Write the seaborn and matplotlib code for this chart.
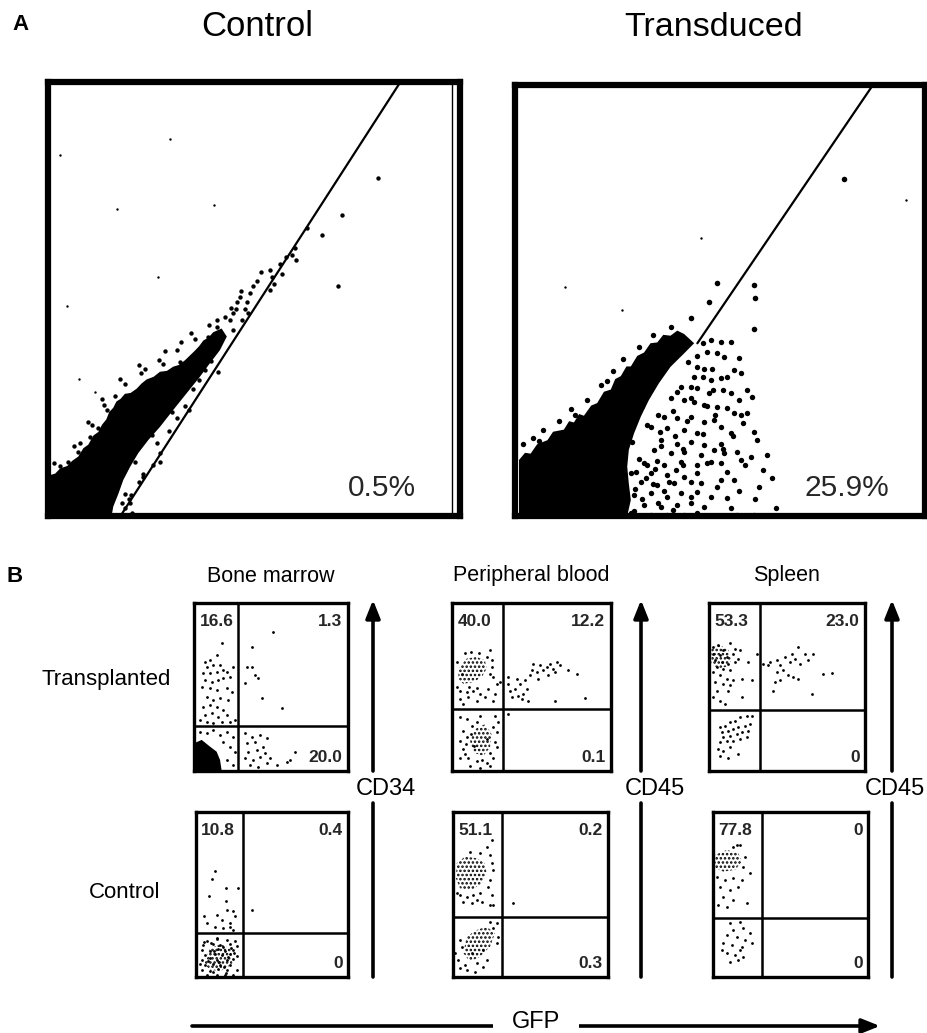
import numpy as np
import pandas as pd
import matplotlib
matplotlib.use("Agg")
import matplotlib.pyplot as plt
import seaborn as sns

W, H = 928, 1033

# ---------------- panel A: FL channel scatter, 0-1023 ----------------
ctrl_core = [(0, 0), (0, 95), (18, 100), (30, 112), (48, 118), (60, 130), (75, 140), (88, 160),
             (100, 168), (113, 190), (125, 198), (134, 215), (145, 228), (152, 245), (162, 255),
             (170, 270), (180, 276), (191, 288), (205, 290), (220, 300), (232, 312), (245, 322),
             (262, 328), (278, 340), (295, 342), (311, 352), (325, 356), (340, 367), (352, 378),
             (365, 390), (375, 400), (386, 414), (398, 420), (410, 433), (431, 442), (444, 423),
             (427, 391), (402, 360), (377, 328), (344, 289), (311, 250), (278, 210), (249, 179),
             (224, 148), (204, 116), (187, 85), (175, 53), (162, 22), (158, 0)]
ctrl_dots = [(382, 395), (398, 423), (419, 446), (452, 462), (460, 478), (468, 489), (493, 505),
             (502, 525), (510, 541), (497, 478), (477, 517), (551, 580), (555, 564), (560, 548),
             (551, 533), (605, 615), (617, 603), (613, 631), (423, 340), (278, 148), (237, 93),
             (204, 30), (208, 6), (460, 438), (481, 462), (489, 489),
             (820, 796), (729, 709), (680, 662), (642, 678), (721, 542), (411, 3),
             (328, 364), (332, 321), (336, 297), (307, 246), (270, 171), (257, 191), (278, 128),
             (216, 128), (191, 53), (183, 30),
             (79, 172), (104, 187), (50, 128), (30, 118), (125, 207), (146, 250),
             (166, 283), (241, 346), (286, 358),
             (75, 150), (110, 215), (140, 262), (190, 312), (230, 338), (275, 368),
             (320, 392), (365, 418), (400, 450), (420, 462), (15, 125), (65, 165), (100, 222),
             (135, 275), (180, 322), (225, 356), (290, 388), (330, 410), (355, 432), (440, 470),
             (455, 490), (470, 505), (480, 530), (520, 555), (530, 575), (575, 595), (590, 610),
             (580, 570),
             (300, 200), (320, 230), (340, 260), (360, 300), (375, 320), (390, 345), (405, 365),
             (350, 250), (260, 120), (225, 80), (205, 50), (190, 20), (235, 100), (200, 40)]
ctrl_faint = [(411, 733), (171, 723), (303, 888), (30, 851), (46, 495), (274, 563), (78, 324),
              (117, 293)]
ctrl_gate = [(180, 0), (875, 1023)]
ctrl_inner_edge = 1003
ctrl_pct = "0.5%"

trans_core = [(10, 0), (10, 133), (25, 150), (39, 148), (55, 170), (81, 180), (95, 200),
              (122, 205), (135, 225), (147, 222), (160, 242), (172, 238), (190, 262), (205, 268),
              (222, 295), (239, 300), (250, 325), (264, 332), (278, 355), (289, 355), (305, 380),
              (322, 388), (338, 410), (355, 412), (370, 430), (388, 428), (405, 440), (422, 432),
              (447, 410), (422, 386), (388, 354), (359, 315), (334, 275), (314, 236), (297, 196),
              (284, 157), (280, 117), (284, 77), (289, 38), (280, 0)]
trans_dots = [(488, 418), (513, 414), (538, 414), (480, 390), (505, 386),
              (522, 378), (559, 374), (455, 354), (472, 350), (492, 350),
              (547, 347), (563, 339), (447, 331), (468, 331), (513, 327), (488, 323),
              (413, 307), (438, 307), (455, 303), (484, 291), (538, 291), (580, 299), (592, 283),
              (388, 279), (422, 275), (447, 271), (559, 275), (472, 263), (505, 259), (530, 256),
              (547, 244), (580, 244),
              (372, 236), (405, 232), (438, 236), (472, 224), (497, 228), (563, 240),
              (339, 212), (380, 208), (422, 204), (455, 196), (513, 212), (538, 196), (596, 200),
              (605, 180),
              (364, 180), (405, 172), (438, 176), (472, 169), (513, 172),
              (347, 157), (388, 149), (422, 153), (463, 145), (497, 157), (522, 149), (555, 153),
              (563, 133), (630, 145),
              (322, 125), (372, 121), (413, 129), (455, 121), (488, 129), (513, 125),
              (289, 101), (339, 101), (380, 97), (422, 93), (455, 101), (530, 105),
              (272, 78), (314, 81), (355, 74), (397, 78), (438, 81), (463, 78), (513, 85), (547, 85),
              (247, 54), (297, 50), (339, 54), (380, 46), (413, 54), (455, 58), (488, 46), (530, 42),
              (222, 26), (272, 30), (322, 26), (364, 22), (405, 26), (438, 30), (472, 22),
              (189, 2), (239, 2), (289, 6), (339, 2), (380, 2), (422, 2), (455, 6), (505, 1),
              (555, 2), (596, 2),
              (296, 12), (318, 40), (300, 64), (326, 90), (350, 112), (310, 135), (292, 175),
              (355, 130), (372, 60), (358, 30), (395, 15), (402, 110), (365, 165), (330, 215),
              (357, 240), (309, 280), (394, 250), (420, 120), (398, 190), (428, 225), (349, 328),
              (405, 295), (330, 120), (345, 75), (303, 105), (385, 80), (440, 45), (420, 160),
              (362, 200), (318, 260), (340, 350), (377, 380), (410, 395), (432, 365), (455, 380),
              (470, 410),
              (560, 60), (575, 120), (520, 160), (545, 190), (590, 140), (610, 70), (570, 220),
              (520, 300), (480, 260), (440, 280), (620, 110), (600, 40), (650, 20), (640, 90),
              (540, 20), (505, 70), (480, 125), (470, 195), (500, 240), (530, 330), (495, 300),
              (20, 170), (45, 185), (70, 205), (110, 225), (140, 255), (180, 275), (215, 310),
              (245, 345), (270, 372), (310, 400), (345, 430), (390, 448), (60, 178), (150, 240),
              (230, 320)]
trans_faint = [(463, 659), (126, 544), (268, 489), (975, 750)]
trans_big = [(821, 801), (505, 552), (484, 509), (438, 469), (596, 548), (600, 517), (596, 445)]
trans_gate = [(455, 410), (893, 1023)]
trans_pct = "25.9%"

# ---------------- panel B: quadrant plots, 0-100 ----------------
columns = ["Bone marrow", "Peripheral blood", "Spleen"]
rows = ["Transplanted", "Control"]
markers = ["CD34", "CD45", "CD45"]

bm_tx_core = [[(0, 0), (0, 16.5), (5, 18.5), (10.4, 14.5), (14.7, 11.5), (16.9, 6.6), (18, 0)]]
bm_tx_dots = [(18, 76), (14.7, 69.1), (10.4, 66.1), (7.1, 65.1), (8.2, 62.1), (12.6, 63.1),
              (16.9, 63.1), (19.1, 60.1), (6.1, 58.2), (10.4, 58.2), (14.7, 59.1), (21.2, 59.1),
              (25.5, 62.1), (7.1, 54.2), (11.5, 53.2), (15.8, 54.2), (19.1, 55.2), (23.4, 56.2),
              (5, 50.2), (10.4, 49.2), (14.7, 48.2), (21.2, 49.2), (24.5, 47.2), (8.2, 44.3),
              (12.6, 42.3), (16.9, 43.3), (22.3, 42.3), (6.1, 38.3), (10.4, 39.3), (14.7, 38.3),
              (19.1, 36.3), (7.1, 33.3), (11.5, 34.3), (15.8, 32.4), (21.2, 33.3), (3.9, 30.4),
              (8.2, 29.4), (12.6, 28.4), (18, 29.4), (23.4, 29.4), (26.6, 30.4),
              (3.9, 23.4), (8.2, 22.4), (12.6, 24.4), (16.9, 21.4), (21.2, 23.4), (25.5, 20.5),
              (19.1, 17.5), (23.4, 14.5), (26.6, 11.5), (21.2, 6.6), (25.5, 3.6),
              (33.1, 22.4), (37.5, 20.5), (42.9, 21.4), (47.2, 19.5), (34.2, 16.5), (39.6, 17.5),
              (45, 14.5), (35.3, 11.5), (40.7, 12.5), (46.1, 10.5), (33.1, 7.6), (38.5, 6.6),
              (42.9, 8.5), (49.4, 7.6), (36.4, 3.6), (41.8, 2.6), (47.2, 4.6), (53.7, 3.6),
              (60.2, 5.6), (65.6, 11.5), (62.3, 6.6),
              (51.5, 83), (37.5, 74), (34.2, 62.1), (37.5, 62.1), (39.6, 57.2), (41.8, 55.2),
              (33.1, 52.2), (44, 43.3), (56.9, 37.3)]
bm_tx_gate = (28.6, 26.6)
bm_tx_pct = ("16.6", "1.3", "20.0")

pb_tx_core = [[(4, 60.9), (9.2, 66.9), (15.5, 67.9), (20.7, 65.9), (21.8, 60.9), (18.7, 55.9),
               (13.4, 52.9), (7.1, 51.9), (4, 54.9)],
              [(14.5, 24.9), (20.7, 27.9), (24.9, 22), (23.9, 14), (19.7, 9), (13.4, 11),
               (11.3, 18)]]
pb_tx_dots = [(23.9, 71.9), (21.8, 67.9), (24.9, 61.9), (26, 55.9), (28.1, 51.9), (30.2, 52.9),
              (5, 47.9), (9.2, 46.9), (13.4, 47.9), (17.6, 45.9), (22.8, 48.9), (27, 45.9),
              (5, 42.9), (10.3, 43.9), (15.5, 41.9), (20.7, 43.9), (26, 41.9), (2.9, 49.9),
              (7.1, 39.9), (3, 65), (8, 70), (12, 71), (17, 70.5), (25, 66), (6, 58), (24, 58),
              (11, 50), (16, 49.5),
              (35.4, 51.9), (36.5, 47.9), (39.6, 48.9), (42.8, 51.9), (45.9, 53.9), (49, 56.9),
              (53.2, 58.9), (55.3, 62.9), (57.4, 59.9), (59.5, 61.9), (61.6, 63.9), (63.7, 60.9),
              (65.8, 64.9), (67.9, 62.9), (64.8, 58.9), (60.6, 56.9), (50.1, 59.9), (54.3, 54.9),
              (46.9, 48.9), (41.7, 44.9), (37.5, 43.9), (43.8, 42.9), (48, 41.9), (44.9, 45.9),
              (35.4, 55.9), (40.7, 54.9), (73.1, 59.9), (78.4, 57.9), (64.8, 41.9), (83.6, 43.5),
              (51.1, 63.9),
              (5, 31.9), (9.2, 30.9), (17.6, 32.9), (27, 32.9), (29.1, 28.9), (7.1, 24), (28.1, 23),
              (5, 18), (9.2, 20), (27, 17), (28.1, 14), (7.1, 13), (10.3, 8), (15.5, 6), (21.8, 5),
              (26, 8), (11.3, 3), (17.6, 2), (23.9, 3), (8.2, 10), (5, 8), (12.4, 26.9),
              (12, 22), (16, 29), (22, 19), (26, 26), (14, 15), (19, 6.5), (24, 11), (9, 16),
              (35.4, 33.9)]
pb_tx_gate = (32.3, 36.9)
pb_tx_pct = ("40.0", "12.2", "0.1")

sp_tx_core = [[(1.5, 73), (7, 75), (12.4, 72), (14.5, 66), (11, 62), (5, 61), (1.5, 64)]]
sp_tx_dots = [(2.8, 73.9), (6, 74.9), (9.2, 71.9), (13.5, 75.9), (16.7, 72.9), (19.9, 71.9),
              (2.8, 69.9), (7.1, 68.9), (11.3, 67.9), (15.6, 69.9), (18.8, 66.9), (3.8, 65.9),
              (8.1, 64.9), (12.4, 63.9), (16.7, 64.9), (4.9, 61.9), (9.2, 60.9), (13.5, 59.9),
              (2.8, 58.9), (7.1, 56.9), (11.3, 54.9), (15.6, 53.9), (20.9, 54.9), (27.4, 53.9),
              (25.2, 64.9), (30.6, 69.9), (3.8, 52.9), (9.2, 51.9), (13.5, 50.9), (4.9, 47.9),
              (12.4, 47.9), (20.9, 43.9), (7.1, 41.9), (10.3, 39.9), (2.8, 43.9),
              (34.8, 63.9), (39.1, 64.9), (43.4, 65.9), (45.5, 62.9), (48.7, 67.9), (51.9, 64.9),
              (55.1, 66.9), (57.3, 73.9), (58.3, 63.9), (61.5, 69.9), (63.7, 65.9), (66.9, 69.9),
              (43.4, 58.9), (47.7, 59.9), (50.9, 56.9), (54.1, 55.9), (45.5, 53.9), (42.3, 52.9),
              (57.3, 54.9), (41.2, 47.9), (65.8, 45.9), (73.3, 57.9), (78.6, 58.3), (38, 62.9),
              (53, 69.9),
              (7.1, 25.9), (10.3, 26.9), (13.5, 28.9), (16.7, 29.9), (19.9, 31.9), (24.2, 32.9),
              (27.4, 32.9), (8.1, 23), (12.4, 24), (15.6, 24.9), (18.8, 25.9), (23.1, 26.9),
              (26.3, 27.9), (9.2, 20), (13.5, 21), (17.7, 22), (20.9, 23), (25.2, 24), (7.1, 17),
              (11.3, 18), (15.6, 18), (19.9, 19), (6, 13), (9.2, 12), (13.5, 14), (18.8, 10),
              (7.1, 9), (12.4, 8), (24.2, 20)]
sp_tx_gate = (33.0, 36.5)
sp_tx_pct = ("53.3", "23.0", "0")

bm_ct_core = [[(5, 8), (9, 17), (16, 20), (23, 17), (24, 8), (17, 4), (10, 4)]]
bm_ct_dots = [(12.5, 64.2), (10.4, 59.1), (19.8, 54), (8.8, 49), (19.8, 45.9), (5.3, 36.8),
              (13.6, 37.8), (20.2, 40.8), (24.6, 39.8), (16.9, 34.7), (22.4, 32.7), (25.7, 36.8),
              (7.1, 32.7), (12.5, 30.6), (18, 29.6), (24.6, 28.6), (22.4, 30.6), (27.9, 54),
              (36.7, 40.8),
              (7.1, 22.1), (13.6, 22.9), (20.2, 22.3), (25.7, 21.8), (4.9, 19.2), (11.5, 19.8),
              (15.8, 19.1), (22.4, 19.9), (26.8, 18.8), (3.8, 16.6), (9.3, 16.0), (14.7, 16.8),
              (19.1, 15.9), (24.6, 16.5), (6.0, 13.1), (12.5, 13.8), (16.9, 13.2), (22.4, 13.9),
              (27.2, 12.8), (3.8, 10.6), (8.2, 9.9), (13.6, 10.5), (20.2, 10.1), (24.6, 10.8),
              (6.0, 7.0), (11.5, 7.6), (15.8, 7.1), (22.4, 7.5), (3.8, 4.5), (9.3, 3.9),
              (14.7, 4.6), (20.2, 4.0), (26.8, 4.4), (7.1, 1.4), (13.6, 1.0), (19.1, 1.5),
              (24.6, 1.2), (10, 20.5), (17.5, 18), (12, 15.5), (21, 12), (9, 11.5), (15, 9),
              (18.5, 6), (11, 3), (23, 17.5), (5.5, 21.5), (14, 23.5), (25, 14.5), (2.5, 8),
              (20, 2.5)]
bm_ct_gate = (31.0, 26.5)
bm_ct_pct = ("10.8", "0.4", "0")

pb_ct_core = [[(2.4, 68.9), (7.7, 73), (15.3, 72), (20.6, 68.9), (21.7, 62.8), (18.5, 56.8),
               (12, 52.7), (4.5, 53.7), (1.9, 59.8)],
              [(8.8, 24.5), (15.3, 28.5), (21.7, 30.5), (27.1, 26.5), (23.9, 18.4), (17.4, 12.3),
               (11, 9.3), (6.7, 14.4)]]
pb_ct_dots = [(11, 76), (17.4, 75), (23.9, 74), (25, 68.9), (26, 64.9), (23.9, 58.8), (22.8, 54.8),
              (25, 49.7), (4.5, 49.7), (8.8, 48.7), (13.1, 49.7), (17.4, 50.7), (6.7, 45.7),
              (12, 44.7), (18.5, 45.7), (23.9, 43.7), (25, 83), (21.7, 79), (2.4, 50.7),
              (15.3, 46.7), (26, 43.7),
              (38.9, 44.7),
              (23.9, 33.5), (28.2, 32.5), (26, 29.5), (29.2, 24.5), (4.5, 22.4), (5.6, 18.4),
              (3.4, 10.3), (4.5, 5.3), (8.8, 4.3), (14.2, 3.3), (19.6, 6.3), (15.3, 8.3),
              (21.7, 10.3), (7.7, 7.3), (12, 14.4), (19.6, 16.4), (28.2, 20.4), (1.3, 14.4)]
pb_ct_gate = (31.6, 36.5)
pb_ct_pct = ("51.1", "0.2", "0.3")

sp_ct_core = [[(1.4, 74), (8.9, 77), (16.4, 75), (18.6, 69.9), (14.3, 64.9), (6.7, 63.9),
               (1.4, 65.9)]]
sp_ct_dots = [(13.2, 79), (17.5, 80), (20.7, 73), (19.6, 66.9), (23.9, 62.8), (2.4, 60.8),
              (7.8, 58.8), (13.2, 59.8), (18.6, 58.8), (4.6, 54.8), (11, 52.7), (16.4, 54.8),
              (6.7, 48.7), (13.2, 46.7), (21.8, 44.7), (3.5, 43.7), (8.9, 42.6), (15.3, 80),
              (11, 32.5), (17.5, 33.5), (13.2, 28.5), (19.6, 29.5), (23.9, 26.5), (8.9, 25.5),
              (15.3, 24.5), (20.7, 22.4), (6.7, 20.4), (12.1, 19.4), (18.6, 18.4), (25, 20.4),
              (8.9, 14.4), (14.3, 13.4), (19.6, 12.3), (11, 9.3), (16.4, 10.3), (5.7, 16.4),
              (17.5, 16.4)]
sp_ct_gate = (31.5, 35.8)
sp_ct_pct = ("77.8", "0", "0")

# ---------------- figure ----------------
sns.set_theme(style="white")
plt.rcParams["font.family"] = ["Liberation Sans", "DejaVu Sans"]
plt.rcParams["hatch.color"] = "black"
plt.rcParams["hatch.linewidth"] = 1.2

fig = plt.figure(figsize=(W / 100, H / 100), dpi=100)


def place(l, t, r, b):
    return fig.add_axes([l / W, 1 - b / H, (r - l) / W, (b - t) / H])


def label(x, y, s, **kw):
    fig.text(x / W, 1 - y / H, s, ha="center", va="center", color="black", **kw)


# overlay in pixel units for the axis arrows
ov = fig.add_axes([0, 0, 1, 1])
ov.set_xlim(0, W)
ov.set_ylim(H, 0)
ov.axis("off")


def frame(ax, lw):
    ax.set(xticks=[], yticks=[], xlabel="", ylabel="")
    for sp in ax.spines.values():
        sp.set_visible(True)
        sp.set_color("black")
        sp.set_linewidth(lw)


def dots(ax, pts, s):
    df = pd.DataFrame(pts, columns=["x", "y"])
    sns.scatterplot(data=df, x="x", y="y", ax=ax, s=s, color="black",
                    linewidth=0, legend=False)


# panel A
panel_a = [((48, 82, 460, 516), ctrl_core, ctrl_dots, 10, ctrl_faint, [], ctrl_gate, ctrl_pct),
           ((515, 85, 925, 516), trans_core, trans_dots, 15, trans_faint, trans_big, trans_gate,
            trans_pct)]
for i, (box, core, pts, size, faint, big, gate, pct) in enumerate(panel_a):
    ax = place(*box)
    ax.set_xlim(0, 1023)
    ax.set_ylim(0, 1023)
    cx, cy = zip(*core)
    ax.fill(cx, cy, color="black", lw=0)
    dots(ax, pts, size)
    dots(ax, faint, 3)
    if big:
        dots(ax, big, 16)
    gx, gy = zip(*gate)
    ax.plot(gx, gy, color="black", lw=1.6)
    if i == 0:
        ax.axvline(ctrl_inner_edge, color="black", lw=1.0)
    frame(ax, 4.5)
    ax.text(0.81, 0.065, pct, transform=ax.transAxes, ha="center", va="center", fontsize=21.5)

label(21, 25, "A", fontsize=16, fontweight="bold")
label(257, 27, "Control", fontsize=25)
label(714, 27, "Transduced", fontsize=24.5)

# panel B
panels = [
    [((194, 603, 348, 771), bm_tx_core, bm_tx_dots, bm_tx_gate, bm_tx_pct),
     ((452, 603, 611, 771), pb_tx_core, pb_tx_dots, pb_tx_gate, pb_tx_pct),
     ((709, 603, 865, 771), sp_tx_core, sp_tx_dots, sp_tx_gate, sp_tx_pct)],
    [((196, 812, 348, 977), bm_ct_core, bm_ct_dots, bm_ct_gate, bm_ct_pct),
     ((453, 812, 608, 977), pb_ct_core, pb_ct_dots, pb_ct_gate, pb_ct_pct),
     ((713, 812, 868, 977), sp_ct_core, sp_ct_dots, sp_ct_gate, sp_ct_pct)],
]
for r, row in enumerate(panels):
    for c, (box, cores, pts, gate, pct) in enumerate(row):
        ax = place(*box)
        ax.set_xlim(0, 100)
        ax.set_ylim(0, 100)
        for core in cores:
            cx, cy = zip(*core)
            if r == 0 and c == 0:
                ax.fill(cx, cy, color="black", lw=0)
            else:
                ax.fill(cx, cy, facecolor="none", edgecolor="black", lw=0, hatch="....")
        dots(ax, pts, 4)
        ax.axvline(gate[0], color="black", lw=1.8)
        ax.axhline(gate[1], color="black", lw=1.8)
        frame(ax, 2.4)
        kw = dict(transform=ax.transAxes, fontsize=12.5, fontweight="bold", va="center")
        ax.text(0.035, 0.89, pct[0], ha="left", **kw)
        ax.text(0.965, 0.89, pct[1], ha="right", **kw)
        ax.text(0.965, 0.08, pct[2], ha="right", **kw)

arrow_x = [373, 641, 892]
marker_x = [386, 655, 895]
for x, mx, m, (box, *_rest) in zip(arrow_x, marker_x, markers, panels[0]):
    ov.annotate("", xy=(x, 600), xytext=(x, box[3]),
                arrowprops=dict(arrowstyle="-|>,head_length=0.9,head_width=0.36",
                                mutation_scale=12, lw=2.6, color="black",
                                shrinkA=0, shrinkB=0))
    ov.plot([x, x], [803, 977], color="black", lw=2.6)
    label(mx, 789, m, fontsize=17)

label(15, 576, "B", fontsize=16, fontweight="bold")
for name, (box, *_rest) in zip(columns, panels[0]):
    label((box[0] + box[2]) / 2, 576, name, fontsize=15.5)
label(106, 680, rows[0], fontsize=16)
label(125, 893, rows[1], fontsize=16)

ov.annotate("", xy=(880, 1026), xytext=(192, 1026),
            arrowprops=dict(arrowstyle="-|>,head_length=0.9,head_width=0.36",
                            mutation_scale=12, lw=2.6, color="black",
                            shrinkA=0, shrinkB=0))
label(536, 1022, "GFP", fontsize=17,
      bbox=dict(boxstyle="square,pad=0.8", facecolor="white", edgecolor="none"))

fig.savefig("out.png", dpi=100)
